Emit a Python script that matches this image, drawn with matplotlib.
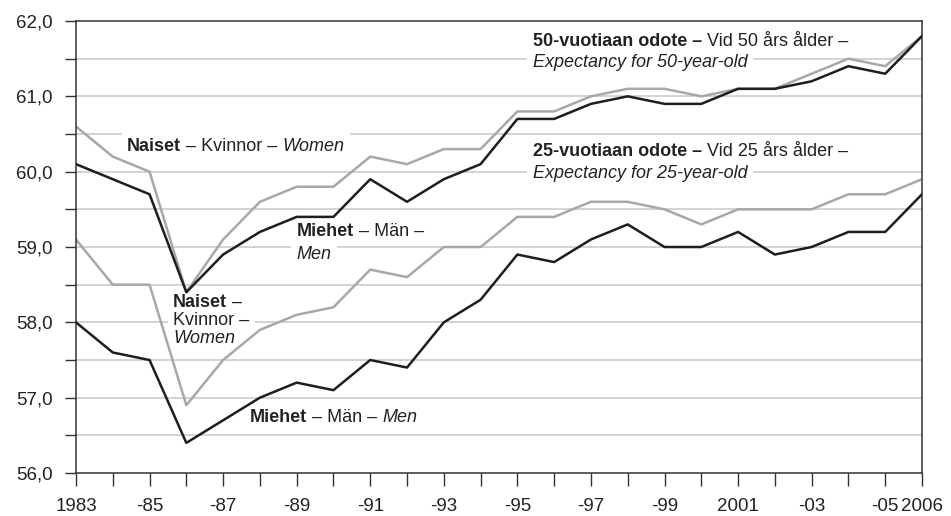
import matplotlib
matplotlib.use("Agg")
import matplotlib.pyplot as plt

plt.rcParams['font.family'] = ['Liberation Sans', 'DejaVu Sans']

years = list(range(1983, 2007))

women50 = [60.6, 60.2, 60.0, 58.4, 59.1, 59.6, 59.8, 59.8, 60.2, 60.1, 60.3, 60.3,
           60.8, 60.8, 61.0, 61.1, 61.1, 61.0, 61.1, 61.1, 61.3, 61.5, 61.4, 61.8]
men50 = [60.1, 59.9, 59.7, 58.4, 58.9, 59.2, 59.4, 59.4, 59.9, 59.6, 59.9, 60.1,
         60.7, 60.7, 60.9, 61.0, 60.9, 60.9, 61.1, 61.1, 61.2, 61.4, 61.3, 61.8]
women25 = [59.1, 58.5, 58.5, 56.9, 57.5, 57.9, 58.1, 58.2, 58.7, 58.6, 59.0, 59.0,
           59.4, 59.4, 59.6, 59.6, 59.5, 59.3, 59.5, 59.5, 59.5, 59.7, 59.7, 59.9]
men25 = [58.0, 57.6, 57.5, 56.4, 56.7, 57.0, 57.2, 57.1, 57.5, 57.4, 58.0, 58.3,
         58.9, 58.8, 59.1, 59.3, 59.0, 59.0, 59.2, 58.9, 59.0, 59.2, 59.2, 59.7]

xlabels = ['1983', '', '-85', '', '-87', '', '-89', '', '-91', '', '-93', '',
           '-95', '', '-97', '', '-99', '', '2001', '', '-03', '', '-05', '2006']
ylabels = ['56,0', '57,0', '58,0', '59,0', '60,0', '61,0', '62,0']

GRAY = '#a8a8a8'
BLACK = '#1e1e1e'
LBL = 13

fig = plt.figure(figsize=(9.51, 5.16), dpi=100)
ax = fig.add_axes([0.0799, 0.0833, 0.8896, 0.876])

for y in [56.5, 57, 57.5, 58, 58.5, 59, 59.5, 60, 60.5, 61, 61.5]:
    ax.axhline(y, color='#c8c8c8', lw=1.1, zorder=0)

ax.plot(years, women50, color=GRAY, lw=1.8, zorder=2)
ax.plot(years, women25, color=GRAY, lw=1.8, zorder=2)
ax.plot(years, men50, color=BLACK, lw=1.8, zorder=3)
ax.plot(years, men25, color=BLACK, lw=1.8, zorder=3)

ax.set_xlim(1983, 2006)
ax.set_ylim(56, 62)
ax.set_xticks(years)
ax.set_xticklabels(xlabels, fontsize=13.5, color='#222222')
ax.set_yticks([56 + 0.5 * i for i in range(13)])
ax.set_yticklabels([ylabels[i // 2] if i % 2 == 0 else '' for i in range(13)],
                   fontsize=13.5, color='#222222')
ax.tick_params(axis='x', direction='out', length=9, width=1, color='#333333', pad=9)
ax.tick_params(axis='y', direction='out', length=8, width=1, color='#333333', pad=9)
for s in ax.spines.values():
    s.set_color('#333333')
    s.set_linewidth(1.1)


def rich(x, y, parts):
    # parts: list of (text, weight, style); pieces chained along one line.
    # white box layer sits over the gridlines but under the data lines
    for layer, z in (('box', 1), ('txt', 5)):
        prev = None
        for txt, w, st in parts:
            kw = dict(fontsize=LBL, fontweight=w, fontstyle=st, zorder=z,
                      ha='left', va='bottom')
            if layer == 'box':
                kw.update(color='none',
                          bbox=dict(boxstyle='square,pad=0.3', fc='white', ec='none'))
            else:
                kw.update(color='#222222')
            if prev is None:
                prev = ax.text(x, y, txt, **kw)
            else:
                prev = ax.annotate(txt, xy=(1, 0), xycoords=prev, **kw)


rich(1984.39, 60.22, [('Naiset', 'bold', 'normal'), (' – Kvinnor – ', 'normal', 'normal'),
                      ('Women', 'normal', 'italic')])
rich(1989.0, 59.09, [('Miehet', 'bold', 'normal'), (' – Män – ', 'normal', 'normal')])
rich(1989.0, 58.79, [('Men', 'normal', 'italic')])
rich(1995.42, 61.61, [('50-vuotiaan odote –', 'bold', 'normal'),
                      (' Vid 50 års ålder – ', 'normal', 'normal')])
rich(1995.42, 61.33, [('Expectancy for 50-year-old', 'normal', 'italic')])
rich(1995.42, 60.15, [('25-vuotiaan odote –', 'bold', 'normal'),
                      (' Vid 25 års ålder – ', 'normal', 'normal')])
rich(1995.42, 59.86, [('Expectancy for 25-year-old', 'normal', 'italic')])
rich(1985.64, 58.15, [('Naiset', 'bold', 'normal'), (' –', 'normal', 'normal')])
rich(1985.64, 57.91, [('Kvinnor –', 'normal', 'normal')])
rich(1985.64, 57.67, [('Women', 'normal', 'italic')])
rich(1987.73, 56.63, [('Miehet', 'bold', 'normal'), (' – Män – ', 'normal', 'normal'),
                      ('Men', 'normal', 'italic')])

fig.savefig('out.png', dpi=100)
